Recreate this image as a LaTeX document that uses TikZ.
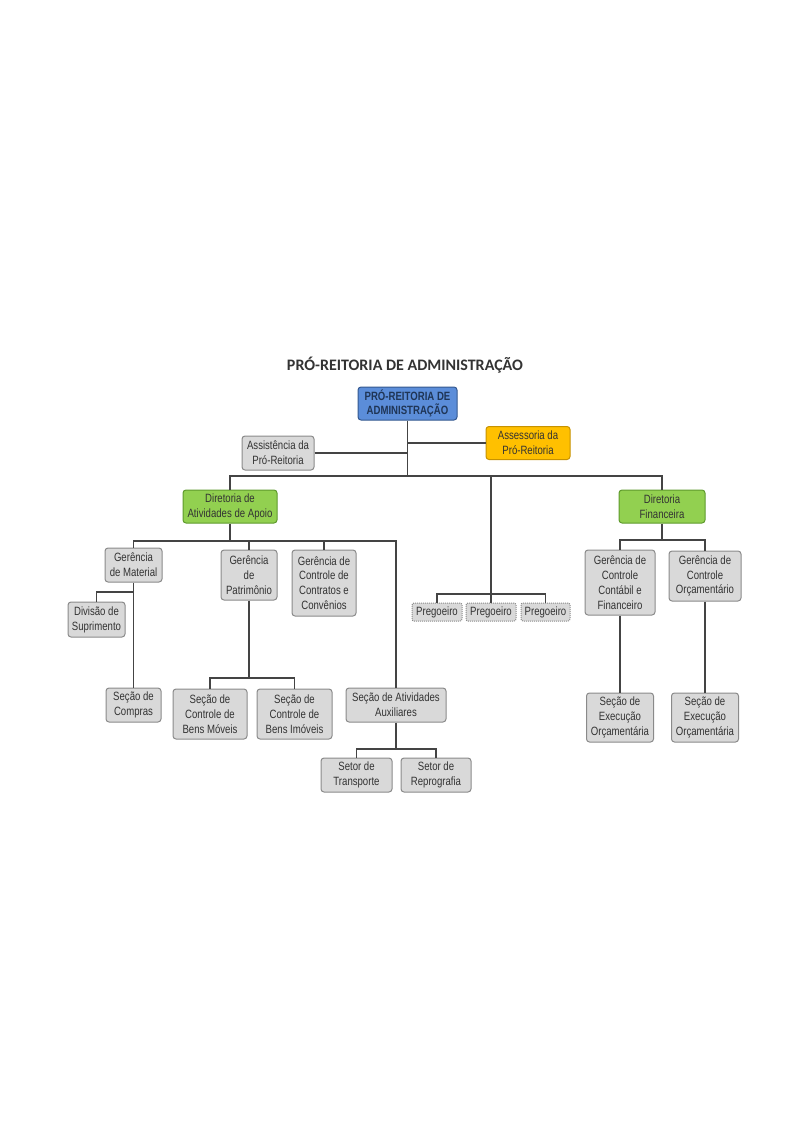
\documentclass[tikz,border=0pt]{standalone}
\usepackage{fontspec}
\usepackage{tikz}
\usetikzlibrary{positioning,shapes}
\newfontfamily\boxfont[FakeStretch=0.8]{Liberation Sans}
\newfontfamily\titlefont{Carlito}
\definecolor{linegray}{HTML}{444444}
\definecolor{boxgray}{HTML}{D9D9D9}
\definecolor{bordergray}{HTML}{8A8A8A}
\definecolor{textgray}{HTML}{333333}
\definecolor{rootblue}{HTML}{5B8DD9}
\definecolor{rootborder}{HTML}{34588F}
\definecolor{assessorange}{HTML}{FFC000}
\definecolor{orangeborder}{HTML}{C79200}
\definecolor{dirgreen}{HTML}{92D050}
\definecolor{greenborder}{HTML}{5E9A2C}

\begin{document}
\begin{tikzpicture}[x=1pt,y=-1pt,line width=1.6pt,draw=linegray,
font=\boxfont\fontsize{12}{14.8}\selectfont]
\tikzstyle{box}=[rectangle,rounded corners=3pt,fill=boxgray,draw=bordergray,line width=1pt,
text=textgray,align=center,inner sep=1pt]
\tikzstyle{dir}=[box,fill=dirgreen,draw=greenborder]
\tikzstyle{preg}=[box,densely dotted,rounded corners=2pt]

\useasboundingbox (0,0) rectangle (794,1123);

\node[text=textgray] (title) at (405,365)
  {\titlefont\bfseries\fontsize{16}{18}\selectfont PRÓ-REITORIA DE ADMINISTRAÇÃO};

\node[box,fill=rootblue,draw=rootborder,text=rootborder!60!black,minimum width=99,minimum height=33]
  (root) at (407.5,403.5) {\bfseries PRÓ-REITORIA DE\\\bfseries ADMINISTRAÇÃO};
\node[box,minimum width=72,minimum height=34] (assist) at (278,453) {Assistência da\\Pró-Reitoria};
\node[box,fill=assessorange,draw=orangeborder,minimum width=84,minimum height=33]
  (assess) at (528,443) {Assessoria da\\Pró-Reitoria};

\node[dir,minimum width=94,minimum height=33] (dapoio) at (230,506.5) {Diretoria de\\Atividades de Apoio};
\node[dir,minimum width=86,minimum height=33] (dfin) at (662,506.5) {Diretoria\\Financeira};

% apoio
\node[box,minimum width=57,minimum height=34] (gmat) at (133.5,565) {Gerência\\de Material};
\node[box,minimum width=57,minimum height=35] (divsup) at (96.5,619.5) {Divisão de\\Suprimento};
\node[box,minimum width=56,minimum height=50] (gpat) at (249,575) {Gerência\\de\\Patrimônio};
\node[box,minimum width=64,minimum height=66] (gcont) at (324,583) {Gerência de\\Controle de\\Contratos e\\Convênios};
\node[box,minimum width=55,minimum height=34] (scomp) at (133.5,705) {Seção de\\Compras};
\node[box,minimum width=74,minimum height=50] (smov) at (210,714) {Seção de\\Controle de\\Bens Móveis};
\node[box,minimum width=75,minimum height=50] (simov) at (294.5,714) {Seção de\\Controle de\\Bens Imóveis};
\node[box,minimum width=100,minimum height=34] (saux) at (396,705) {Seção de Atividades\\Auxiliares};
\node[box,minimum width=71,minimum height=34] (strans) at (356.5,775) {Setor de\\Transporte};
\node[box,minimum width=70,minimum height=34] (srepro) at (436,775) {Setor de\\Reprografia};

% pregoeiros
\node[preg,minimum width=50,minimum height=18] (preg1) at (437,612) {Pregoeiro};
\node[preg,minimum width=50,minimum height=18] (preg2) at (491,612) {Pregoeiro};
\node[preg,minimum width=49,minimum height=18] (preg3) at (545.5,612) {Pregoeiro};

% financeira
\node[box,minimum width=70,minimum height=65] (gccf) at (620,582.5) {Gerência de\\Controle\\Contábil e\\Financeiro};
\node[box,minimum width=72,minimum height=50] (gco) at (705,576) {Gerência de\\Controle\\Orçamentário};
\node[box,minimum width=67,minimum height=49] (sexe1) at (620,717.5) {Seção de\\Execução\\Orçamentária};
\node[box,minimum width=67,minimum height=49] (sexe2) at (705,717.5) {Seção de\\Execução\\Orçamentária};

\coordinate (top) at (407.5,476);
\coordinate (pbus) at (491,594);
\coordinate (abus) at (230,541);
\coordinate (mbr) at (133.5,592);
\coordinate (pbr) at (249,678);
\coordinate (xbr) at (396,749);
\coordinate (fbr) at (662,540);

\draw (root) -- (top);
\draw (assist) -- (assist -| root);
\draw (assess) -- (assess -| root);
\draw (dapoio) |- (top) -| (dfin);
\draw (preg2 |- top) -- (preg2);
\draw (preg1) |- (pbus) -| (preg3);

\draw (dapoio) -- (abus);
\draw (gmat) |- (abus) -| (saux);
\draw (gpat |- abus) -- (gpat);
\draw (gcont |- abus) -- (gcont);
\draw (gmat) -- (scomp);
\draw (divsup) |- (mbr);
\draw (gpat) -- (pbr);
\draw (smov) |- (pbr) -| (simov);
\draw (saux) -- (xbr);
\draw (strans) |- (xbr) -| (srepro);

\draw (dfin) -- (fbr);
\draw (gccf) |- (fbr) -| (gco);
\draw (gccf) -- (sexe1);
\draw (gco) -- (sexe2);
\end{tikzpicture}
\end{document}
